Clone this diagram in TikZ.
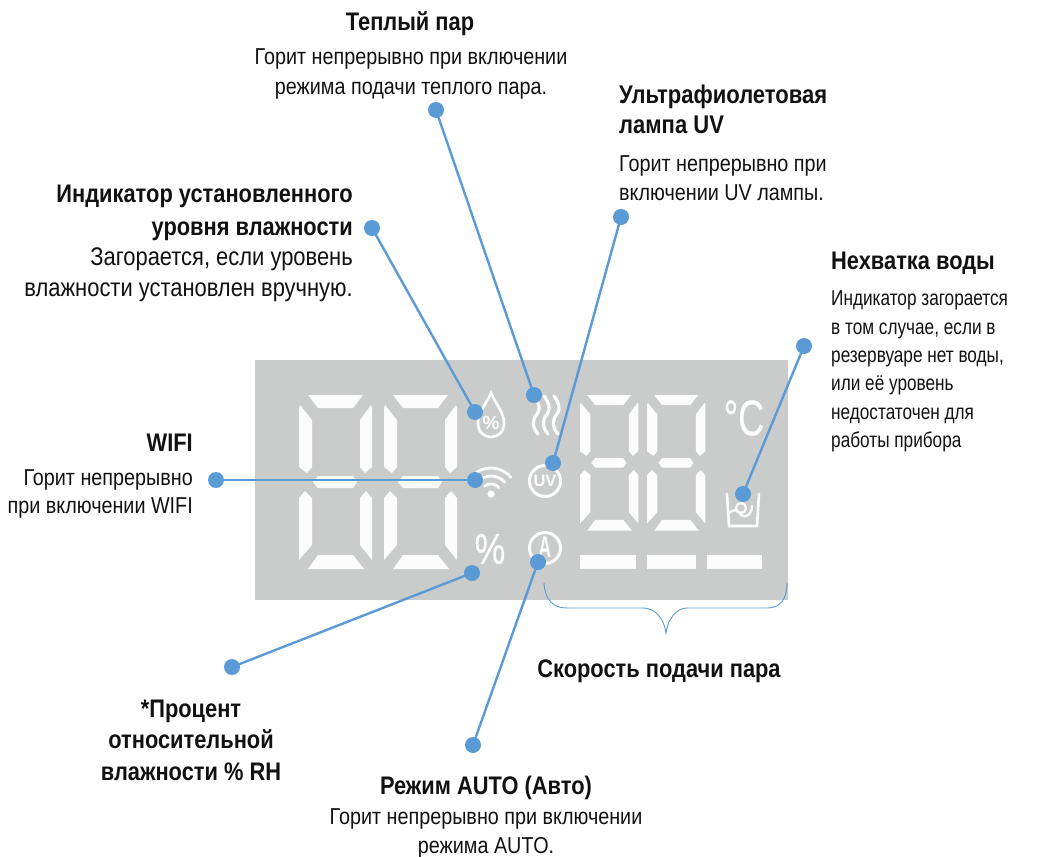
\documentclass[tikz,border=0pt]{standalone}
\usepackage{fontspec}
\setmainfont{Liberation Sans}[FakeStretch=0.86]
\newfontfamily\plainsans{Liberation Sans}
\newfontfamily\heavysans{Liberation Sans}[FakeBold=0.5]
\newfontfamily\narrowsans{Liberation Sans}[FakeStretch=0.8]
\definecolor{lcd}{HTML}{CACCCB}
\definecolor{seg}{HTML}{FCFCFC}
\definecolor{lead}{HTML}{5B9BD5}
\definecolor{ink}{HTML}{111111}
\newcommand{\sevenseg}[4]{%
\begin{scope}[shift={(#1,#2)},xscale=#3,yscale=#4]
\fill[seg] (9,0)--(64,0)--(54,13)--(19,13)--cycle;
\fill[seg] (1,10)--(13,25)--(13,72)--(8,78)--(0,72)--(0,13)--cycle;
\fill[seg] (72,10)--(61,25)--(61,72)--(66,78)--(73,72)--(73,13)--cycle;
\fill[seg] (14,87)--(19,81)--(54,81)--(58,87)--(54,93)--(19,93)--cycle;
\fill[seg] (6,96)--(13,103)--(13,150)--(0,165)--(0,103)--cycle;
\fill[seg] (67,96)--(61,103)--(61,150)--(73,165)--(73,103)--cycle;
\fill[seg] (19,160)--(54,160)--(65,174)--(9,174)--cycle;
\end{scope}}
\tikzset{
  x=1pt,y=-1pt,
  pin/.style={circle,fill=lead,draw=none,minimum size=16pt,inner sep=0pt},
  leadline/.style={draw=lead,line width=2.4pt},
  bracket/.style={draw=lead,line width=0.9pt},
  note/.style={text=ink,inner sep=0pt,font=\fontsize{23}{28.5}\selectfont},
  head/.style={text=ink,inner sep=0pt,font=\bfseries\fontsize{25.4}{31}\selectfont},
  glyph/.style={text=seg,inner sep=0pt},
  icon/.style={draw=seg,line width=2.6pt,fill=none,line cap=round}
}
\begin{document}
\begin{tikzpicture}
\useasboundingbox (0,0) rectangle (1037,857);
\fill[lcd] (255,360) rectangle (788,600);
\sevenseg{299}{395}{1}{1}
\sevenseg{384}{395}{1}{1}
\sevenseg{580}{395}{0.8}{0.78}
\sevenseg{647}{395}{0.8}{0.78}
\fill[seg] (580,555) rectangle (636,569);
\fill[seg] (647,555) rectangle (696,569);
\fill[seg] (707,555) rectangle (762,569);
% drop icon
\draw[icon] (491,393) .. controls (487,403) and (478,412) .. (478,423) .. controls (478,432) and (484,437) .. (491,437) .. controls (498,437) and (504,432) .. (504,423) .. controls (504,412) and (495,403) .. (491,393) -- cycle;
\node[glyph,font=\plainsans\bfseries\fontsize{19}{19}\selectfont] (dropsign) at (491,423) {\%};
% steam
\foreach \d in {-10,0,10}{
  \draw[icon,line width=3.2pt] (544+\d,396) .. controls (549+\d,403) and (551+\d,408) .. (547+\d,414) .. controls (542+\d,420) and (542+\d,427) .. (548+\d,434);
}
% wifi
\fill[seg] (491,494) circle (3.6);
\foreach \r in {10,18,26}{
  \draw[icon,line width=2.8pt] plot[domain=40:130,samples=14,smooth] ({491+\r*cos(\x)},{494-\r*sin(\x)});
}
% UV, auto
\draw[icon,line width=3pt] (545,481) circle (15.5);
\node[glyph,font=\plainsans\bfseries\fontsize{16.500}{16.500}\selectfont] (uvmark) at (545,481) {UV};
\draw[icon,line width=3pt] (545,548) circle (15.5);
\node[glyph,font=\plainsans\bfseries\fontsize{30}{30}\selectfont,xscale=0.58] (amark) at (545,547.500) {A};
% percent, celsius
\node[glyph,font=\heavysans\fontsize{43}{43}\selectfont,xscale=0.8] (pct) at (490,549) {\%};
\node[glyph,font=\heavysans\fontsize{50}{50}\selectfont,xscale=0.72] (cel) at (744,418) {°C};
% cup
\draw[icon] (727,494) -- (729,526) -- (757,526) -- (759,494);
\draw[icon,line width=2.2pt] (729,513) .. controls (736,507) and (739,512) .. (741,515) .. controls (746,519) and (752,514) .. (752,506);
\draw[icon,line width=2.2pt] (741,508) circle (5);
% bracket
\draw[bracket] (544,583) .. controls (545,600) and (553,608) .. (567,608) -- (643,608) .. controls (655,608) and (664,618) .. (666,633) .. controls (668,618) and (677,608) .. (687,608) -- (767,608) .. controls (781,608) and (787,598) .. (787,583);
% pins
\node[pin] (warmA) at (436,110) {};
\node[pin] (warmB) at (534,395) {};
\node[pin] (humA) at (372,228) {};
\node[pin] (humB) at (475,412) {};
\node[pin] (wifiA) at (216,480) {};
\node[pin] (wifiB) at (475,480) {};
\node[pin] (uvA) at (621,217) {};
\node[pin] (uvB) at (553,463) {};
\node[pin] (waterA) at (804,346) {};
\node[pin] (waterB) at (743,494) {};
\node[pin] (pctA) at (232,667) {};
\node[pin] (pctB) at (472,573) {};
\node[pin] (autoA) at (473,745) {};
\node[pin] (autoB) at (538,562) {};
\draw[leadline] (warmA.center) -- (warmB.center);
\draw[leadline] (humA.center) -- (humB.center);
\draw[leadline] (wifiA.center) -- (wifiB.center);
\draw[leadline] (uvA.center) -- (uvB.center);
\draw[leadline] (waterA.center) -- (waterB.center);
\draw[leadline] (pctA.center) -- (pctB.center);
\draw[leadline] (autoA.center) -- (autoB.center);
% labels
\node[head] (t1) at (410,24) {Теплый пар};
\node[note,font=\fontsize{23}{30}\selectfont,align=center] (t1b) at (411,73.500) {Горит непрерывно при включении\\режима подачи теплого пара.};
\node[head,font=\bfseries\fontsize{25.6}{30}\selectfont,align=left,anchor=west] (t2) at (619,109) {Ультрафиолетовая\\лампа UV};
\node[note,align=left,anchor=west] (t2b) at (619,178) {Горит непрерывно при\\включении UV лампы.};
\node[head,font=\bfseries\fontsize{25.4}{33}\selectfont,align=right,anchor=east] (t3) at (353,213) {Индикатор установленного\\уровня влажности};
\node[note,font=\fontsize{25.5}{31}\selectfont,align=right,anchor=east] (t3b) at (353,274.500) {Загорается, если уровень\\влажности установлен вручную.};
\node[head,anchor=east] (t4) at (193,443) {WIFI};
\node[note,align=right,anchor=east] (t4b) at (193,494) {Горит непрерывно\\при включении WIFI};
\node[head,anchor=west] (t5) at (831,263) {Нехватка воды};
\node[note,font=\narrowsans\fontsize{21.5}{28.4}\selectfont,align=left,anchor=west] (t5b) at (831,371.500) {Индикатор загорается\\в том случае, если в\\резервуаре нет воды,\\или её уровень\\недостаточен для\\работы прибора};
\node[head] (t6) at (659,671) {Скорость подачи пара};
\node[head,font=\bfseries\fontsize{25.4}{31.5}\selectfont,align=center] (t7) at (191,740) {*Процент\\относительной\\влажности \% RH};
\node[head] (t8) at (486,788) {Режим AUTO (Авто)};
\node[note,font=\fontsize{23}{29}\selectfont,align=center] (t8b) at (486,833) {Горит непрерывно при включении\\режима AUTO.};
\end{tikzpicture}
\end{document}
